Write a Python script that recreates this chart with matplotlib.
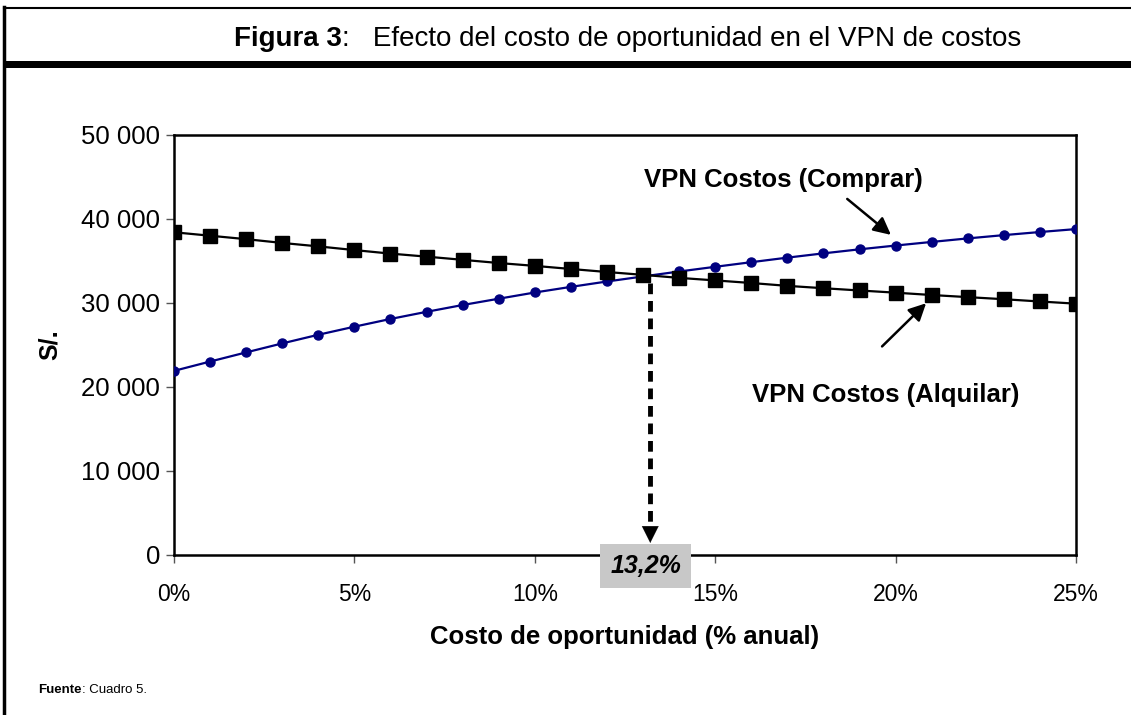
import matplotlib
matplotlib.use("Agg")
import matplotlib.pyplot as plt
from matplotlib.lines import Line2D
from matplotlib.patches import Rectangle
from matplotlib.ticker import FuncFormatter

plt.rcParams['font.family'] = ['Liberation Sans', 'DejaVu Sans']

# ---- data ----
tasa = list(range(0, 26))  # % anual
vpn_comprar = [21920, 23030, 24120, 25190, 26220, 27180, 28100, 28950, 29760, 30510,
               31250, 31920, 32560, 33160, 33750, 34310, 34860, 35400, 35910, 36390,
               36840, 37270, 37690, 38080, 38450, 38800]
vpn_alquilar = [38420, 38010, 37600, 37150, 36740, 36300, 35880, 35520, 35140, 34760,
                34420, 34050, 33690, 33350, 32990, 32690, 32380, 32040, 31760, 31490,
                31230, 30950, 30700, 30450, 30180, 29920]
tasa_equilibrio = 13.2
etiqueta_equilibrio = "13,2%"
y_ticks = [0, 10000, 20000, 30000, 40000, 50000]
x_ticks = [0, 5, 10, 15, 20, 25]

W, H = 1131, 715
fig = plt.figure(figsize=(W / 100, H / 100), dpi=100)

def fx(px):
    return px / W

def fy(py):
    return 1 - py / H

# ---- frame / title band ----
fig.add_artist(Line2D([fx(4), fx(1131)], [fy(8), fy(8)], color='black', lw=1.5))
fig.add_artist(Line2D([fx(4), fx(4)], [fy(7), fy(715)], color='black', lw=2.5))
fig.add_artist(Rectangle((fx(4), fy(68)), fx(1131) - fx(4), fy(61) - fy(68),
                         facecolor='black', edgecolor='none', transform=fig.transFigure))

ax = fig.add_axes([fx(174), fy(555), fx(1076) - fx(174), fy(135) - fy(555)])

ax.plot(tasa, vpn_comprar, color='#000080', lw=1.6, marker='o', markersize=6.5,
        markerfacecolor='#000080', markeredgecolor='#000080', zorder=3)
ax.plot(tasa, vpn_alquilar, color='black', lw=1.6, marker='s', markersize=10.5,
        markerfacecolor='black', markeredgecolor='black', zorder=4)

ax.set_xlim(0, 25)
ax.set_ylim(0, 50000)
ax.set_xticks(x_ticks)
ax.set_yticks(y_ticks)
ax.xaxis.set_major_formatter(FuncFormatter(lambda v, p: f"{int(v)}%"))
ax.yaxis.set_major_formatter(FuncFormatter(lambda v, p: f"{int(v):,}".replace(",", " ")))
ax.tick_params(axis='both', length=6, width=1, color='#555555', direction='out')
ax.tick_params(axis='x', labelsize=16.5, pad=14)
ax.tick_params(axis='y', labelsize=18.5, pad=4)
for s in ax.spines.values():
    s.set_linewidth(1.8)
    s.set_color('black')

ax.set_xlabel("Costo de oportunidad (% anual)", fontsize=18.5, fontweight='bold', labelpad=14)
ax.set_ylabel("S/.", fontsize=18, fontweight='bold', labelpad=14)

# annotations
ax.annotate("", xy=(19.93, 37900), xytext=(18.6, 42600),
            arrowprops=dict(arrowstyle='-|>', color='black', lw=1.8, mutation_scale=26))
ax.text(16.9, 44600, "VPN Costos (Comprar)", fontsize=18.5, fontweight='bold',
        ha='center', va='center')
ax.annotate("", xy=(20.9, 30200), xytext=(19.57, 24600),
            arrowprops=dict(arrowstyle='-|>', color='black', lw=1.8, mutation_scale=26))
ax.text(19.73, 19050, "VPN Costos (Alquilar)", fontsize=18.5, fontweight='bold',
        ha='center', va='center')

# dashed arrow to break-even rate
ax.plot([tasa_equilibrio, tasa_equilibrio], [32400, 3200], color='black', lw=3.5,
        ls=(0, (2.2, 1.4)), zorder=5)
ax.annotate("", xy=(tasa_equilibrio, 1100), xytext=(tasa_equilibrio, 3700),
            arrowprops=dict(arrowstyle='-|>', color='black', lw=0.1, mutation_scale=30))
ax.text(13.08, -1300, etiqueta_equilibrio, fontsize=18, fontweight='bold', style='italic',
        ha='center', va='center', clip_on=False, zorder=6,
        bbox=dict(boxstyle='square,pad=0.4', facecolor='#c8c8c8', edgecolor='none'))

# title (mixed weight) and source
fig.canvas.draw()
r = fig.canvas.get_renderer()
t1 = fig.text(0, fy(39), "Figura 3", fontsize=20, fontweight='bold', va='center')
t2 = fig.text(0, fy(39), ":   Efecto del costo de oportunidad en el VPN de costos",
              fontsize=20, va='center')
w1 = t1.get_window_extent(r).width
w2 = t2.get_window_extent(r).width
x0 = 628 - (w1 + w2) / 2
t1.set_x(fx(x0))
t2.set_x(fx(x0 + w1))

s1 = fig.text(fx(38), fy(690), "Fuente", fontsize=9.5, fontweight='bold', va='center')
w3 = s1.get_window_extent(r).width
fig.text(fx(38 + w3), fy(690), ": Cuadro 5.", fontsize=9.5, va='center')

fig.savefig("out.png", dpi=100)
